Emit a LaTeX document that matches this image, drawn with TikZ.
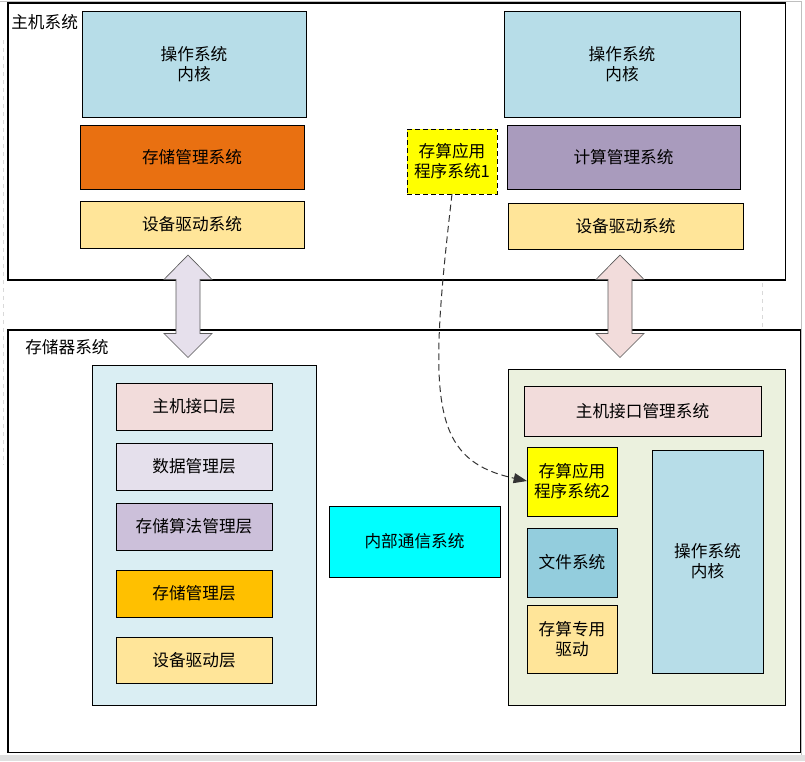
\documentclass[tikz,border=0pt]{standalone}
\usepackage{fontspec}
\newfontfamily\cjk{Noto Sans CJK SC}
\usetikzlibrary{arrows.meta}
\definecolor{oskern}{HTML}{B7DDE8}
\definecolor{stormgr}{HTML}{E97011}
\definecolor{drv}{HTML}{FFE599}
\definecolor{compmgr}{HTML}{A99BBD}
\definecolor{appy}{HTML}{FFFF00}
\definecolor{arrL}{HTML}{E6E0EC}
\definecolor{arrR}{HTML}{F2DCDB}
\definecolor{lblue}{HTML}{DAEEF3}
\definecolor{lgreen}{HTML}{EBF1DE}
\definecolor{pinkl}{HTML}{F2DCDB}
\definecolor{lav}{HTML}{E5E0EC}
\definecolor{lav2}{HTML}{CCC0DA}
\definecolor{gold}{HTML}{FFC000}
\definecolor{fsys}{HTML}{93CDDD}
\definecolor{cyanb}{HTML}{00FFFF}
\newcommand\rbox[8]{\node[boxst,fill=#6,minimum width={(#4-#2)*0.75pt},minimum height={(#5-#3)*0.75pt},anchor=north west,#7] (#1) at (#2,#3) {};
  \node[txt] at (#1.center) {#8};}
\tikzset{
  boxst/.style={draw=black,line width=0.75pt,inner sep=0pt,outer sep=0pt},
  txt/.style={font=\cjk\fontsize{12.5}{15}\selectfont,align=center,text=black,inner sep=0pt},
  bigarr/.style={draw=black!65,line width=0.5pt},
}
\begin{document}
\begin{tikzpicture}[x=0.75pt,y=-0.75pt]
\useasboundingbox (0,0) rectangle (805,761);
\fill[white] (0,0) rectangle (805,761);
% faint screenshot frame
\fill[black!12] (0,755) rectangle (805,761);
\draw[black!25,line width=0.75pt] (0,1) -- (802,1);
\draw[black!25,line width=0.75pt] (801,1) -- (801,755);
\draw[black!15,dashed,line width=0.6pt] (3,40) -- (3,465);
\draw[black!15,dashed,line width=0.6pt] (762,283) -- (762,328);
% outer systems
\node[boxst,line width=0.9pt,fill=white,minimum width={(785.5-8)*0.75pt},minimum height={(280-3)*0.75pt},anchor=north west] (host) at (8,3) {};
\node[txt,anchor=north west] (hostlbl) at (11,14) {主机系统};
\node[boxst,line width=0.9pt,fill=white,minimum width={(800.5-8)*0.75pt},minimum height={(752.5-330)*0.75pt},anchor=north west] (stor) at (8,330) {};
\node[txt,anchor=north west] (storlbl) at (25,339) {存储器系统};
% double arrows
\coordinate (la) at (188,255);
\coordinate (ra) at (620,255);
\draw[bigarr,fill=arrL] (la) -- ++(24,24.5) -- ++(-12,0) -- ++(0,54) -- ++(12,0) -- ++(-24,24) -- ++(-24,-24) -- ++(12,0) -- ++(0,-54) -- ++(-12,0) -- cycle;
\draw[bigarr,fill=arrR] (ra) -- ++(24,24.5) -- ++(-12,0) -- ++(0,54) -- ++(12,0) -- ++(-24,24) -- ++(-24,-24) -- ++(12,0) -- ++(0,-54) -- ++(-12,0) -- cycle;
% host left
\rbox{hk1}{82}{11}{306}{117}{oskern}{}{操作系统\\内核}
\rbox{hsm}{80}{125}{304}{189}{stormgr}{}{存储管理系统}
\rbox{hd1}{80}{201}{304}{248}{drv}{}{设备驱动系统}
% host right
\rbox{hk2}{504}{11}{740}{117}{oskern}{}{操作系统\\内核}
\rbox{hcm}{507}{125}{740}{189}{compmgr}{}{计算管理系统}
\rbox{hd2}{508}{203}{743}{249}{drv}{}{设备驱动系统}
\rbox{app1}{407}{129}{497}{194}{appy}{dashed,dash pattern=on 4pt off 2pt}{存算应用\\程序系统1}
% storage left
\rbox{sl}{92}{365}{316}{705}{lblue}{}{}
\rbox{l1}{116}{383}{272}{430}{pinkl}{}{主机接口层}
\rbox{l2}{116}{443}{272}{490}{lav}{}{数据管理层}
\rbox{l3}{116}{503}{272}{550}{lav2}{}{存储算法管理层}
\rbox{l4}{116}{570}{272}{617}{gold}{}{存储管理层}
\rbox{l5}{116}{637}{272}{683}{drv}{}{设备驱动层}
% internal comm
\rbox{comm}{329}{506}{500}{577}{cyanb}{}{内部通信系统}
% storage right
\rbox{sr}{508}{369}{785}{705}{lgreen}{}{}
\rbox{him}{524}{386}{761}{436}{pinkl}{}{主机接口管理系统}
\rbox{app2}{527}{447}{617}{516}{appy}{}{存算应用\\程序系统2}
\rbox{fs}{527}{528}{617}{597}{fsys}{}{文件系统}
\rbox{sd}{527}{605}{617}{673}{drv}{}{存算专用\\驱动}
\rbox{sk}{652}{450}{763}{673}{oskern}{}{操作系统\\内核}
% dashed arrow
\coordinate (a1s) at (452,194);
\coordinate (a2e) at (527,481);
\draw[black!80,line width=0.75pt,dash pattern=on 5pt off 3pt,-{Triangle[length=10pt,width=7.5pt]}] (app1.south -| a1s) .. controls (428,400) and (430,460) .. (app2.west |- a2e);
\end{tikzpicture}
\end{document}
